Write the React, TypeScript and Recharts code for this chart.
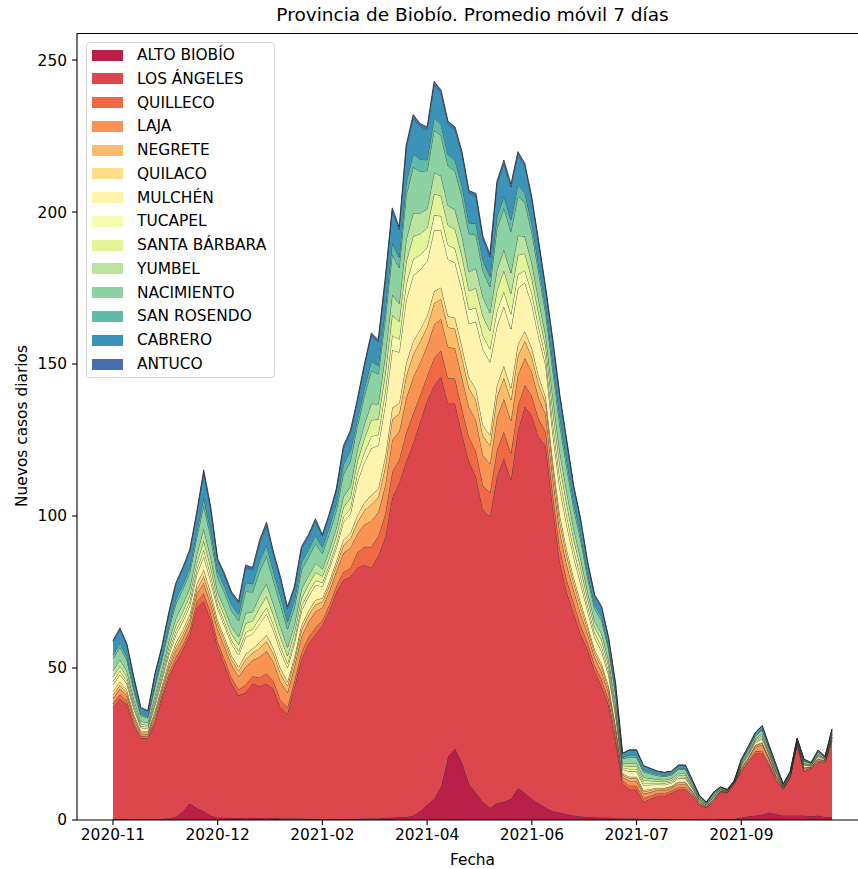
import React from 'react';
import { AreaChart, Area, XAxis, YAxis } from 'recharts';

// Provincia de Biobío, nuevos casos diarios (promedio móvil 7 días), por comuna
const comunas = [
  'ALTO BIOBÍO', 'LOS ÁNGELES', 'QUILLECO', 'LAJA', 'NEGRETE', 'QUILACO', 'MULCHÉN',
  'TUCAPEL', 'SANTA BÁRBARA', 'YUMBEL', 'NACIMIENTO', 'SAN ROSENDO', 'CABRERO', 'ANTUCO',
];
const colors = [
  '#b91f48', '#db474d', '#f06844', '#f99354', '#fdbc6c', '#fede89', '#fff4ad',
  '#f6fcb2', '#e4f499', '#bbe4a1', '#8ed2a4', '#60bba8', '#3c93b8', '#486cb0',
];

const tickIndex = [0, 15, 30, 45, 60, 75, 90];
const tickLabels = ['2020-11', '2020-12', '2021-02', '2021-04', '2021-06', '2021-07', '2021-09'];
const yTicks = [0, 50, 100, 150, 200, 250];

const altoBiobio = [
  0.3, 0.3, 0.3, 0.3, 0.3, 0.3, 0.3, 0.4, 0.6,
  1, 3, 5.5, 4, 3, 1.5,
  0.8, 0.8, 0.7, 0.7, 0.6, 0.8, 0.7, 0.6, 0.7, 0.6, 0.5, 0.6, 0.5, 0.4, 0.4,
  0.3, 0.3, 0.4, 0.3, 0.3, 0.4, 0.5, 0.6, 0.6, 0.7, 0.8,
  1, 1, 1.5, 3, 5, 7, 11, 21, 23.5, 19,
  12, 9, 6, 4, 5.5, 6, 7, 10.5, 9, 7,
  5.5, 4, 3, 2.5, 2, 1.5, 1.2, 1, 1, 0.8, 0.8, 0.6,
  0.5, 0.5, 0.5, 0.4, 0.4, 0.4, 0.3, 0.3, 0.3, 0.3, 0.3, 0.2, 0.2, 0.2, 0.3, 0.3, 0.4,
  0.8, 1.2, 1.5, 1.8, 2.5, 2, 1.5, 1.5, 1.5, 1.5, 1.2, 1.5, 1, 1,
];
const losAngeles = [
  36.7, 39.7, 37.7, 30.7, 26.7, 26.7, 31.7, 39.6, 46.4, 51, 53, 55.5, 66, 69, 64.5,
  56.2, 50.2, 44.3, 40.3, 41.4, 44.2, 43.3, 44.4, 42.3, 36.4, 34.5, 43.4, 52.5, 57.6, 60.6,
  63.7, 68.7, 74.6, 78.7, 79.7, 82.6, 83.5, 82.4, 86.4, 92.3, 105.2, 110, 117, 122.5, 128,
  133, 136, 135, 116, 113.5, 108, 106, 104, 96, 96, 107.5, 113, 105, 117.5, 127,
  126, 120.5, 119, 100, 82.5, 73, 66.5, 59.8, 55, 48, 43.2, 37.2, 25.4, 11.5, 9.5,
  9.5, 5.6, 6.6, 7.6, 7.7, 8.7, 9.7, 9.7, 7.7, 4.8, 3.8, 5.8, 8.7, 8.7, 11.6,
  15.2, 17.8, 20.5, 20.2, 15.5, 11, 8.5, 12.5, 23.5, 14.5, 15.8, 17.5, 18, 25,
];
const quilleco = [
  1.3, 1.4, 1.2, 1.0, 0.6, 0.5, 1.0, 1.0, 1.3, 1.6, 1.6, 1.7, 1.9, 2.6, 2.2,
  1.7, 1.8, 1.8, 1.9, 2.5, 2.3, 2.9, 3.2, 2.7, 2.6, 2.1, 2.0, 2.2, 2.2, 2.3, 1.8, 1.9, 2.0, 2.6, 2.9,
  5.0, 5.9, 6.9, 6.4, 7.7, 8.6, 7.6, 9.4, 9.7, 8.8, 8.1, 9, 8.5, 8.4, 8.2, 8.4, 8.0, 8.4, 8.1, 7.7,
  8.7, 8.8, 8.7, 8.3, 7.2, 6.5, 5.8, 4.7,
  4.4, 4.4, 4, 3.4, 3.0, 2.3, 2, 2.1, 1.8, 1.5,
  1.0, 1.3, 1.3, 1.2, 1.0, 0.8, 0.8, 0.7, 0.8, 0.8, 0.5, 0.3, 0.2, 0.3, 0.2, 0.1, 0.1, 0.4, 0.5, 0.6,
  0.8, 0.6, 0.5, 0.2, 0.2, 0.2, 0.4, 0.2, 0.4, 0.2, 0.4,
];
const laja = [
  1.8, 1.8, 1.6, 1.3, 0.8, 0.7, 1.3, 1.4, 1.7, 2.1, 2.2, 2.2, 2.5, 3.4, 3.0,
  4.1, 4.2, 4.2, 4.3, 5.9, 5.3, 6.7, 7.4, 6.3, 6.0, 4.9, 4.6, 5.2, 5.0, 5.3, 4.2, 4.5, 4.8, 6.2, 6.7,
  6.1, 7.3, 8.5, 7.8, 9.4, 10.5, 9.2, 11.4, 11.9, 10.8, 9.9, 11, 10.3, 10.2, 10.0, 10.2, 9.8, 10.2, 9.9, 9.5,
  10.7, 10.8, 10.7, 10.1, 8.8, 7.9, 7.0, 5.7,
  5.5, 5.5, 5, 4.2, 3.8, 2.9, 2.5, 2.6, 2.2, 1.9,
  1.2, 1.6, 1.6, 1.4, 1.2, 1.0, 0.9, 0.8, 1.0, 1.0, 0.6, 0.4, 0.2, 0.4, 0.2, 0.1, 0.1, 0.5, 0.6, 1.5,
  2.0, 1.2, 0.6, 0.2, 0.2, 0.2, 0.5, 0.2, 0.5, 0.2, 0.5,
];
const negrete = [
  1.1, 1.2, 1.0, 0.8, 0.5, 0.5, 0.8, 0.9, 1.1, 1.3, 1.4, 1.4, 1.6, 2.2, 1.9,
  1.7, 1.8, 1.8, 1.9, 2.5, 2.3, 2.9, 3.2, 2.7, 2.6, 2.1, 2.0, 2.2, 2.2, 2.3, 1.8, 1.9, 2.0, 2.6, 2.9,
  3.9, 4.6, 5.4, 5.0, 6.0, 6.7, 5.9, 7.3, 7.6, 6.9, 6.3, 7, 6.6, 6.5, 6.4, 6.5, 6.2, 6.5, 6.3, 6.0,
  6.8, 6.9, 6.8, 6.4, 5.6, 5.0, 4.5, 3.6,
  3.3, 3.3, 3, 2.5, 2.3, 1.7, 1.5, 1.6, 1.3, 1.1,
  0.6, 0.8, 0.8, 0.7, 0.6, 0.5, 0.5, 0.4, 0.5, 0.5, 0.3, 0.2, 0.1, 0.2, 0.1, 0.1, 0.1, 0.2, 0.3, 0.4,
  0.5, 0.4, 0.3, 0.1, 0.1, 0.1, 0.2, 0.1, 0.2, 0.1, 0.2,
];
const quilaco = [
  1.1, 1.2, 1.0, 0.8, 0.5, 0.5, 0.8, 0.9, 1.1, 1.3, 1.4, 1.4, 1.6, 2.2, 1.9,
  1.2, 1.2, 1.2, 1.2, 1.7, 1.5, 1.9, 2.1, 1.8, 1.7, 1.4, 1.3, 1.5, 1.4, 1.5, 1.2, 1.3, 1.4, 1.8, 1.9,
  2.2, 2.6, 3.1, 2.8, 3.4, 3.8, 3.4, 4.2, 4.3, 3.9, 3.6, 4, 3.8, 3.7, 3.6, 3.7, 3.6, 3.7, 3.6, 3.4,
  3.9, 3.9, 3.9, 3.7, 3.2, 2.9, 2.6, 2.1,
  2.2, 2.2, 2, 1.7, 1.5, 1.2, 1, 1.0, 0.9, 0.8,
  0.4, 0.5, 0.5, 0.5, 0.4, 0.3, 0.3, 0.3, 0.3, 0.3, 0.2, 0.1, 0.1, 0.1, 0.1, 0, 0, 0.2, 0.2, 0.2,
  0.3, 0.2, 0.2, 0.1, 0.1, 0.1, 0.2, 0.1, 0.2, 0.1, 0.2,
];
const mulchen = [
  2.2, 2.3, 2.0, 1.6, 1.0, 0.9, 1.6, 1.7, 2.1, 2.6, 2.7, 2.8, 3.1, 4.3, 3.7,
  3.8, 3.9, 3.9, 4.0, 5.5, 4.9, 6.2, 6.9, 5.9, 5.6, 4.6, 4.3, 4.8, 4.7, 4.9, 3.9, 4.2, 4.4, 5.7, 6.2,
  11.0, 13.2, 15.4, 14.2, 17.0, 19.0, 16.8, 20.8, 21.6, 19.6, 18.0, 20, 18.8, 18.6, 18.2, 18.6, 17.8, 22, 25, 24,
  19.4, 19.6, 19.4, 18.4, 16.0, 14.4, 12.8, 10.4,
  8.8, 8.8, 8, 6.7, 6.1, 4.6, 4, 4.2, 3.5, 3.0,
  1.4, 1.8, 1.8, 1.7, 1.4, 1.1, 1.1, 1.0, 1.1, 1.1, 0.7, 0.4, 0.3, 0.4, 0.3, 0.1, 0.1, 0.6, 0.7, 0.8,
  1.1, 0.8, 0.7, 0.3, 0.3, 0.3, 0.6, 0.3, 0.6, 0.3, 0.6,
];
const tucapel = [
  1.1, 1.2, 1.0, 0.8, 0.5, 0.5, 0.8, 0.9, 1.1, 1.3, 1.4, 1.4, 1.6, 2.2, 1.9,
  1.2, 1.2, 1.2, 1.2, 1.7, 1.5, 1.9, 2.1, 1.8, 1.7, 1.4, 1.3, 1.5, 1.4, 1.5, 1.2, 1.3, 1.4, 1.8, 1.9,
  2.8, 3.3, 3.9, 3.6, 4.3, 4.8, 4.2, 5.2, 5.4, 4.9, 4.5, 5, 4.7, 4.7, 4.6, 4.7, 4.5, 4.7, 4.5, 4.3,
  4.9, 4.9, 4.9, 4.6, 4.0, 3.6, 3.2, 2.6,
  3.3, 3.3, 3, 2.5, 2.3, 1.7, 1.5, 1.6, 1.3, 1.1,
  0.6, 0.8, 0.8, 0.7, 0.6, 0.5, 0.5, 0.4, 0.5, 0.5, 0.3, 0.2, 0.1, 0.2, 0.1, 0.1, 0.1, 0.2, 0.3, 0.4,
  0.5, 0.4, 0.3, 0.1, 0.1, 0.1, 0.2, 0.1, 0.2, 0.1, 0.2,
];
const santaBarbara = [
  1.5, 1.6, 1.4, 1.1, 0.7, 0.6, 1.1, 1.2, 1.5, 1.8, 1.9, 2.0, 2.2, 3.0, 2.6,
  2.0, 2.1, 2.1, 2.2, 2.9, 2.7, 3.4, 3.7, 3.2, 3.0, 2.5, 2.3, 2.6, 2.5, 2.7, 2.1, 2.2, 2.4, 3.1, 3.4,
  3.9, 4.6, 5.4, 5.0, 6.0, 6.7, 5.9, 7.3, 7.6, 6.9, 6.3, 7, 6.6, 6.5, 6.4, 6.5, 6.2, 6.5, 6.3, 6.0,
  6.8, 6.9, 6.8, 6.4, 5.6, 5.0, 4.5, 3.6,
  4.4, 4.4, 4, 3.4, 3.0, 2.3, 2, 2.1, 1.8, 1.5,
  0.7, 0.9, 0.9, 0.8, 0.7, 0.6, 0.5, 0.5, 0.6, 0.6, 0.4, 0.2, 0.1, 0.2, 0.1, 0.1, 0.1, 0.3, 0.4, 0.4,
  0.6, 0.4, 0.4, 0.1, 0.1, 0.1, 0.3, 0.1, 0.3, 0.1, 0.3,
];
const yumbel = [
  2.0, 2.1, 1.8, 1.4, 0.9, 0.8, 1.4, 1.5, 1.9, 2.3, 2.4, 2.5, 2.8, 3.9, 3.3,
  2.3, 2.4, 2.4, 2.5, 3.4, 3.0, 3.8, 4.2, 3.6, 3.4, 2.8, 2.6, 3.0, 2.9, 3.0, 2.4, 2.6, 2.7, 3.5, 3.8,
  3.9, 4.6, 5.4, 5.0, 6.0, 6.7, 5.9, 7.3, 7.6, 6.9, 6.3, 7, 6.6, 6.5, 6.4, 6.5, 6.2, 6.5, 6.3, 6.0,
  6.8, 6.9, 6.8, 6.4, 5.6, 5.0, 4.5, 3.6,
  4.4, 4.4, 4, 3.4, 3.0, 2.3, 2, 2.1, 1.8, 1.5,
  0.8, 1.0, 1.0, 1.0, 0.8, 0.6, 0.6, 0.6, 0.6, 0.6, 0.4, 0.2, 0.2, 0.2, 0.2, 0.1, 0.1, 0.3, 0.4, 0.5,
  0.6, 0.5, 0.4, 0.2, 0.2, 0.2, 0.3, 0.2, 0.3, 0.2, 0.3,
];
const nacimiento = [
  4.0, 4.1, 3.6, 2.9, 1.8, 1.6, 2.9, 3.1, 3.8, 4.7, 4.9, 5.0, 5.6, 7.7, 6.7,
  4.9, 5.1, 5.1, 5.3, 7.1, 6.5, 8.2, 9.0, 7.7, 7.3, 6.0, 5.6, 6.3, 6.1, 6.5, 5.1, 5.4, 5.8, 7.5, 8.2,
  7.7, 9.2, 10.8, 9.9, 11.9, 13.3, 11.8, 14.6, 15.1, 13.7, 12.6, 14, 13.2, 13.0, 12.7, 13.0, 12.5, 11, 8.6, 8.5,
  13.6, 13.7, 13.6, 12.9, 11.2, 10.1, 9.0, 7.3,
  8.8, 8.8, 8, 6.7, 6.1, 4.6, 4, 4.2, 3.5, 3.0,
  1.5, 2.0, 2.0, 1.8, 1.5, 1.2, 1.1, 1.1, 1.2, 1.2, 0.8, 0.5, 0.3, 0.5, 0.3, 0.2, 0.2, 0.6, 0.8, 0.9,
  1.2, 0.9, 0.8, 0.3, 0.3, 0.3, 0.6, 0.3, 0.6, 0.3, 0.6,
];
const sanRosendo = [
  1.3, 1.4, 1.2, 1.0, 0.6, 0.5, 1.0, 1.0, 1.3, 1.6, 1.6, 1.7, 1.9, 2.6, 2.2,
  2.0, 2.1, 2.1, 2.2, 2.9, 2.7, 3.4, 3.7, 3.2, 3.0, 2.5, 2.3, 2.6, 2.5, 2.7, 2.1, 2.2, 2.4, 3.1, 3.4,
  2.2, 2.6, 3.1, 2.8, 3.4, 3.8, 3.4, 4.2, 4.3, 3.9, 3.6, 4, 3.8, 3.7, 3.6, 3.7, 3.6, 3.7, 3.6, 3.4,
  3.9, 3.9, 3.9, 3.7, 3.2, 2.9, 2.6, 2.1,
  2.8, 2.8, 2.5, 2.1, 1.9, 1.5, 1.3, 1.3, 1.1, 1.0,
  0.5, 0.7, 0.7, 0.6, 0.5, 0.4, 0.4, 0.4, 0.4, 0.4, 0.3, 0.2, 0.1, 0.2, 0.1, 0, 0, 0.2, 0.3, 0.3,
  0.4, 0.3, 0.3, 0.1, 0.1, 0.1, 0.2, 0.1, 0.2, 0.1, 0.2,
];
const cabrero = [
  4.2, 4.4, 3.8, 3.0, 1.9, 1.7, 3.0, 3.2, 4.0, 4.9, 5.1, 5.3, 5.9, 8.2, 7.0,
  3.5, 3.6, 3.6, 3.7, 5.0, 4.6, 5.8, 6.4, 5.4, 5.2, 4.2, 4.0, 4.4, 4.3, 4.6, 3.6, 3.8, 4.1, 5.3, 5.8,
  6.1, 7.3, 8.5, 7.8, 9.4, 10.5, 9.2, 11.4, 11.9, 10.8, 9.9, 11, 10.3, 10.2, 10.0, 10.2, 9.8, 9, 6.9, 6.5,
  10.7, 10.8, 10.7, 10.1, 8.8, 7.9, 7.0, 5.7,
  6.6, 6.6, 6, 5.0, 4.6, 3.5, 3, 3.1, 2.6, 2.3,
  1.2, 1.6, 1.6, 1.4, 1.2, 1.0, 0.9, 0.8, 1.0, 1.0, 0.6, 0.4, 0.2, 0.4, 0.2, 0.1, 0.1, 0.5, 0.6, 0.7,
  1.0, 0.7, 0.6, 0.2, 0.2, 0.2, 0.5, 0.2, 0.5, 0.2, 0.5,
];
const antuco = [
  0.4, 0.5, 0.4, 0.3, 0.2, 0.2, 0.3, 0.3, 0.4, 0.5, 0.5, 0.6, 0.6, 0.9, 0.7,
  0.6, 0.6, 0.6, 0.6, 0.8, 0.8, 1.0, 1.1, 0.9, 0.9, 0.7, 0.7, 0.7, 0.7, 0.8, 0.6, 0.6, 0.7, 0.9, 1.0,
  0.6, 0.7, 0.8, 0.7, 0.9, 1.0, 0.8, 1.0, 1.1, 1.0, 0.9, 1, 0.9, 0.9, 0.9, 0.9, 0.9, 0.9, 0.9, 0.9,
  1.0, 1.0, 1.0, 0.9, 0.8, 0.7, 0.6, 0.5,
  0.6, 0.6, 0.5, 0.4, 0.4, 0.3, 0.3, 0.3, 0.2, 0.2,
  0.1, 0.1, 0.1, 0.1, 0.1, 0.1, 0.1, 0.1, 0.1, 0.1, 0.1, 0, 0, 0, 0, 0, 0, 0, 0.1, 0.1,
  0.1, 0.1, 0.1, 0, 0, 0, 0, 0, 0, 0, 0,
];

const series = [
  altoBiobio, losAngeles, quilleco, laja, negrete, quilaco, mulchen,
  tucapel, santaBarbara, yumbel, nacimiento, sanRosendo, cabrero, antuco,
];

const data = altoBiobio.map((_, i) => {
  const row: Record<string, number> = { i };
  series.forEach((s, k) => {
    row[`s${k}`] = s[i] ?? 0;
  });
  return row;
});

const FONT = "'DejaVu Sans', 'Liberation Sans', sans-serif";
const tickStyle = { fontSize: 15.4, fill: '#000', fontFamily: FONT };

function Legend() {
  return (
    <div
      style={{
        position: 'absolute',
        left: 86,
        top: 42,
        width: 187,
        height: 334,
        border: '1px solid #d5d5d5',
        borderRadius: 4,
        background: 'rgba(255,255,255,0.8)',
        fontFamily: FONT,
        fontSize: 15.4,
        color: '#000',
      }}
    >
      {comunas.map((c, k) => (
        <div
          key={c}
          style={{
            position: 'absolute',
            left: 0,
            top: k * 23.77,
            height: 24,
            display: 'flex',
            alignItems: 'center',
            whiteSpace: 'nowrap',
          }}
        >
          <span style={{ display: 'inline-block', width: 31, height: 11, marginLeft: 5, background: colors[k] }} />
          <span style={{ marginLeft: 14 }}>{c}</span>
        </div>
      ))}
    </div>
  );
}

export default function App() {
  return (
    <div style={{ position: 'absolute', left: 0, top: 0, width: 858, height: 869, overflow: 'hidden', background: '#fff' }}>
      <AreaChart
        width={878}
        height={869}
        data={data}
        margin={{ top: 33, right: 10, bottom: 19, left: 17 }}
      >
        <XAxis
          dataKey="i"
          type="number"
          domain={[-5.15, 108.15]}
          allowDataOverflow
          ticks={tickIndex}
          interval={0}
          tickFormatter={(v) => tickLabels[tickIndex.indexOf(v)] ?? ''}
          tick={tickStyle}
          tickSize={5}
          tickMargin={4}
          height={30}
          axisLine={{ stroke: '#000', strokeWidth: 1.1 }}
          tickLine={{ stroke: '#000', strokeWidth: 1.1 }}
        />
        <YAxis
          type="number"
          domain={[0, 258.9]}
          allowDataOverflow
          ticks={yTicks}
          interval={0}
          tick={tickStyle}
          tickSize={5}
          tickMargin={5}
          width={60}
          axisLine={{ stroke: '#000', strokeWidth: 1.1 }}
          tickLine={{ stroke: '#000', strokeWidth: 1.1 }}
        />
        {series.map((_, k) => (
          <Area
            key={k}
            type="linear"
            dataKey={`s${k}`}
            name={comunas[k]}
            stackId="1"
            fill={colors[k]}
            fillOpacity={1}
            stroke="#262626"
            strokeOpacity={0.8}
            strokeWidth={0.9}
            dot={false}
            activeDot={false}
            isAnimationActive={false}
          />
        ))}
      </AreaChart>
      {/* top spine, right one falls outside the picture */}
      <div style={{ position: 'absolute', left: 77, top: 32.5, width: 800, height: 1.1, background: '#000' }} />
      <div
        style={{
          position: 'absolute', left: 0, width: 945, top: 4, textAlign: 'center',
          fontFamily: FONT, fontSize: 18.5, color: '#000',
        }}
      >
        Provincia de Biobío. Promedio móvil 7 días
      </div>
      <div
        style={{
          position: 'absolute', left: 0, width: 945, top: 851, textAlign: 'center',
          fontFamily: FONT, fontSize: 15.4, color: '#000',
        }}
      >
        Fecha
      </div>
      <div
        style={{
          position: 'absolute', left: 22, top: 426, transform: 'translate(-50%, -50%) rotate(-90deg)',
          whiteSpace: 'nowrap', fontFamily: FONT, fontSize: 15.4, color: '#000',
        }}
      >
        Nuevos casos diarios
      </div>
      <Legend />
    </div>
  );
}
